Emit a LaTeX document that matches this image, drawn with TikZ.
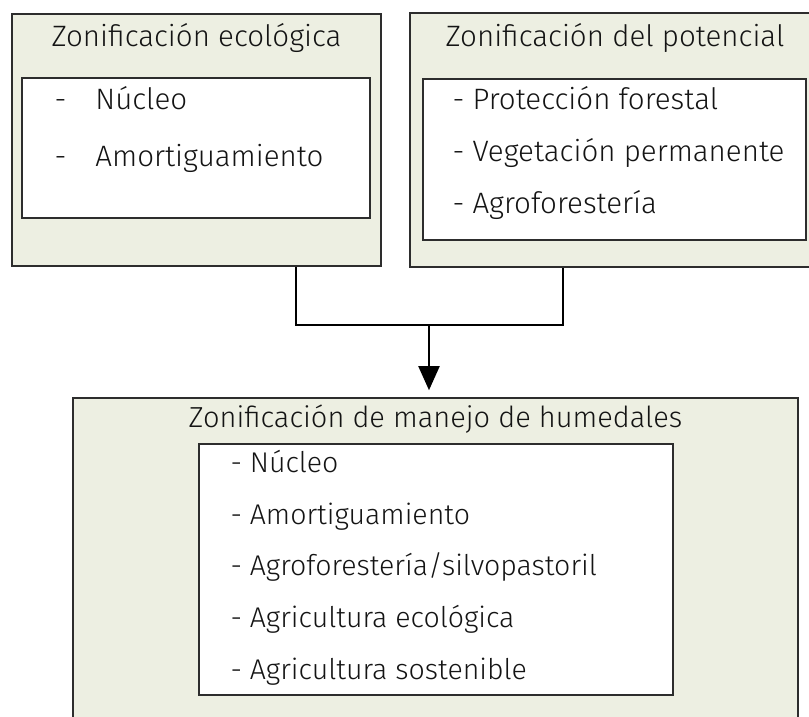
\documentclass[tikz,border=0pt]{standalone}
\usepackage{fontspec}
\setmainfont{Fira Sans}[UprightFont=* Light]
\usetikzlibrary{arrows.meta,positioning}
\definecolor{zonefill}{RGB}{237,239,226}
\definecolor{zoneline}{RGB}{45,45,45}
\definecolor{zonetext}{RGB}{20,20,20}

\begin{document}
\begin{tikzpicture}[
    x=1pt, y=-1pt,
    every node/.style={font=\fontsize{29.5}{34}\selectfont, text=zonetext},
    outer/.style={draw=zoneline, line width=1.6pt, fill=zonefill, inner sep=0pt},
    inner/.style={draw=zoneline, line width=1.4pt, fill=white, inner sep=0pt},
    title/.style={inner sep=0pt, text height=21pt, text depth=7pt},
    item/.style={inner sep=0pt, text height=21pt, text depth=7pt},
    lowtitle/.style={title, font=\fontsize{29}{34}\selectfont},
    lowitem/.style={item, font=\fontsize{28.5}{34}\selectfont},
    link/.style={line width=2pt, black},
    flow/.style={-{Triangle[length=24pt,width=21pt]}, line width=2pt, black}
]
\path[use as bounding box, clip] (0,0) rectangle (809,717);

% zonificacion ecologica
\node[outer, minimum width=369pt, minimum height=252pt] (ecoOuter) at (196.5,140) {};
\node[inner, minimum width=348pt, minimum height=140pt] (ecoInner) at (196,148) {};
\node[title, below=12pt of ecoOuter.north] (ecoTitle) {Zonificación ecológica};
\node[item, below right=11pt and 33pt of ecoInner.north west] (ecoNucleo) {\makebox[41pt][l]{-}Núcleo};
\node[item, below right=29pt and 0pt of ecoNucleo.south west] (ecoAmort) {\makebox[41pt][l]{-}Amortiguamiento};

% zonificacion del potencial
\node[outer, minimum width=410pt, minimum height=254pt] (potOuter) at (615,140) {};
\node[inner, minimum width=383pt, minimum height=161pt] (potInner) at (614.5,159.5) {};
\node[title, below=13pt of potOuter.north] (potTitle) {Zonificación del potencial};
\node[item, below right=10pt and 30pt of potInner.north west] (potProt) {- Protección forestal};
\node[item, below right=24pt and 0pt of potProt.south west] (potVeg) {- Vegetación permanente};
\node[item, below right=23pt and 0pt of potVeg.south west] (potAgro) {- Agroforestería};

% zonificacion de manejo de humedales
\node[outer, minimum width=725pt, minimum height=342pt] (humOuter) at (435.5,569) {};
\node[inner, minimum width=474pt, minimum height=251pt] (humInner) at (436,569.5) {};
\node[lowtitle, below=9pt of humOuter.north] (humTitle) {Zonificación de manejo de humedales};
\node[lowitem, below right=8pt and 32pt of humInner.north west] (humNucleo) {- Núcleo};
\node[lowitem, below right=23.3pt and 0pt of humNucleo.south west] (humAmort) {- Amortiguamiento};
\node[lowitem, below right=23.3pt and 0pt of humAmort.south west] (humAgro) {- Agroforestería/silvopastoril};
\node[lowitem, below right=23.3pt and 0pt of humAgro.south west] (humEco) {- Agricultura ecológica};
\node[lowitem, below right=23.3pt and 0pt of humEco.south west] (humSost) {- Agricultura sostenible};

% union de las dos zonificaciones
\coordinate (join) at (429,325);
\draw[link] ([xshift=99.5pt]ecoOuter.south) |- (join) -| ([xshift=-52pt]potOuter.south);
\draw[flow] (join) -- ([yshift=7pt]humOuter.north -| join);
\end{tikzpicture}
\end{document}
